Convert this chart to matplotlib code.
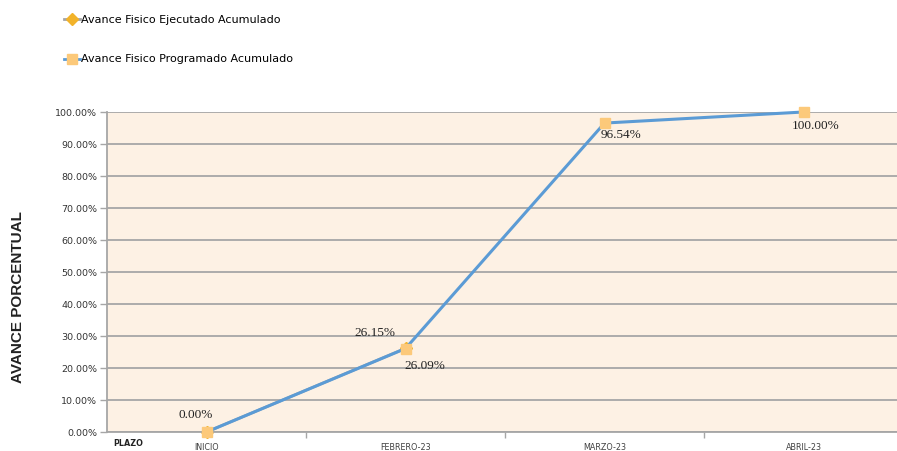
import matplotlib
matplotlib.use("Agg")
import matplotlib.pyplot as plt
from matplotlib.lines import Line2D

categories = ["INICIO", "FEBRERO-23", "MARZO-23", "ABRIL-23"]
programado = [0.0, 26.09, 96.54, 100.0]
ejecutado = [0.0, 26.15]
yticks = [0, 10, 20, 30, 40, 50, 60, 70, 80, 90, 100]

narrow = ["Liberation Sans Narrow", "DejaVu Sans"]
serif = ["Liberation Serif", "DejaVu Serif"]

fig = plt.figure(figsize=(8.97, 4.51), dpi=100)
ax = fig.add_axes([107/897, 1-432/451, 796/897, 320/451])
ax.set_facecolor("#fdf1e4")

x = list(range(len(categories)))
ax.plot(range(len(ejecutado)), ejecutado, color="#a5a5a5", lw=2.0,
        marker="D", ms=6, mfc="#f2b32a", mec="#f2b32a", zorder=2, clip_on=False)
ax.plot(x, programado, color="#5b9bd5", lw=2.2, marker="s", ms=7,
        mfc="#fcc97a", mec="#fcc97a", zorder=3, clip_on=False)

ax.set_xlim(-0.5, 3.5)
ax.set_ylim(0, 100)
ax.set_yticks(yticks)
ax.set_yticklabels([f"{v:.2f}%" for v in yticks], family=narrow, fontsize=6.8, color="#333333")
ax.yaxis.grid(True, color="#a6a6a6", lw=1.3)
ax.set_axisbelow(True)
ax.tick_params(axis="y", length=5, color="#a6a6a6", width=1, pad=2)

ax.set_xticks([0.5, 1.5, 2.5])
ax.set_xticklabels([])
ax.tick_params(axis="x", length=4, color="#a6a6a6", width=1)
for i, c in enumerate(categories):
    ax.text(i, -3.3, c, ha="center", va="top", family=narrow, fontsize=5.8,
            color="#404040")
ax.text(-0.47, -2.2, "PLAZO", ha="left", va="top", family=narrow, fontsize=5.8,
        fontweight="bold", color="#222222")

for s in ["top", "right"]:
    ax.spines[s].set_visible(False)
ax.spines["left"].set_color("#a6a6a6")
ax.spines["left"].set_linewidth(1.3)
ax.spines["bottom"].set_color("#a6a6a6")
ax.spines["bottom"].set_linewidth(1.3)

lab = dict(family=serif, fontsize=9.5, color="#222222")
ax.annotate("0.00%", (0, programado[0]), xytext=(-8, 8), textcoords="offset points", ha="center", va="bottom", **lab)
ax.annotate(f"{ejecutado[1]:.2f}%", (1, ejecutado[1]), xytext=(-22, 7), textcoords="offset points", ha="center", va="bottom", **lab)
ax.annotate(f"{programado[1]:.2f}%", (1, programado[1]), xytext=(14, -8), textcoords="offset points", ha="center", va="top", **lab)
ax.annotate(f"{programado[2]:.2f}%", (2, programado[2]), xytext=(12, -4), textcoords="offset points", ha="center", va="top", **lab)
ax.annotate(f"{programado[3]:.2f}%", (3, programado[3]), xytext=(9, -6), textcoords="offset points", ha="center", va="top", **lab)

fig.text(18/897, 1-297/451, "AVANCE PORCENTUAL", rotation=90, ha="center", va="center",
         fontsize=11, fontweight="bold", family=["Liberation Sans", "DejaVu Sans"], color="#222222")

handles = [
    Line2D([], [], color="#a5a5a5", lw=2, marker="D", ms=6, mfc="#f2b32a", mec="#f2b32a"),
    Line2D([], [], color="#5b9bd5", lw=2, marker="s", ms=7, mfc="#fcc97a", mec="#fcc97a"),
]
leg = fig.legend(handles, ["Avance Fisico Ejecutado Acumulado", "Avance Fisico Programado Acumulado"],
                 loc="upper left", bbox_to_anchor=(54/897, 1-5/451), frameon=False,
                 handlelength=1.4, handletextpad=0.15, labelspacing=2.65,
                 prop={"family": narrow, "size": 8})

fig.savefig("out.png", dpi=100, facecolor="white")
